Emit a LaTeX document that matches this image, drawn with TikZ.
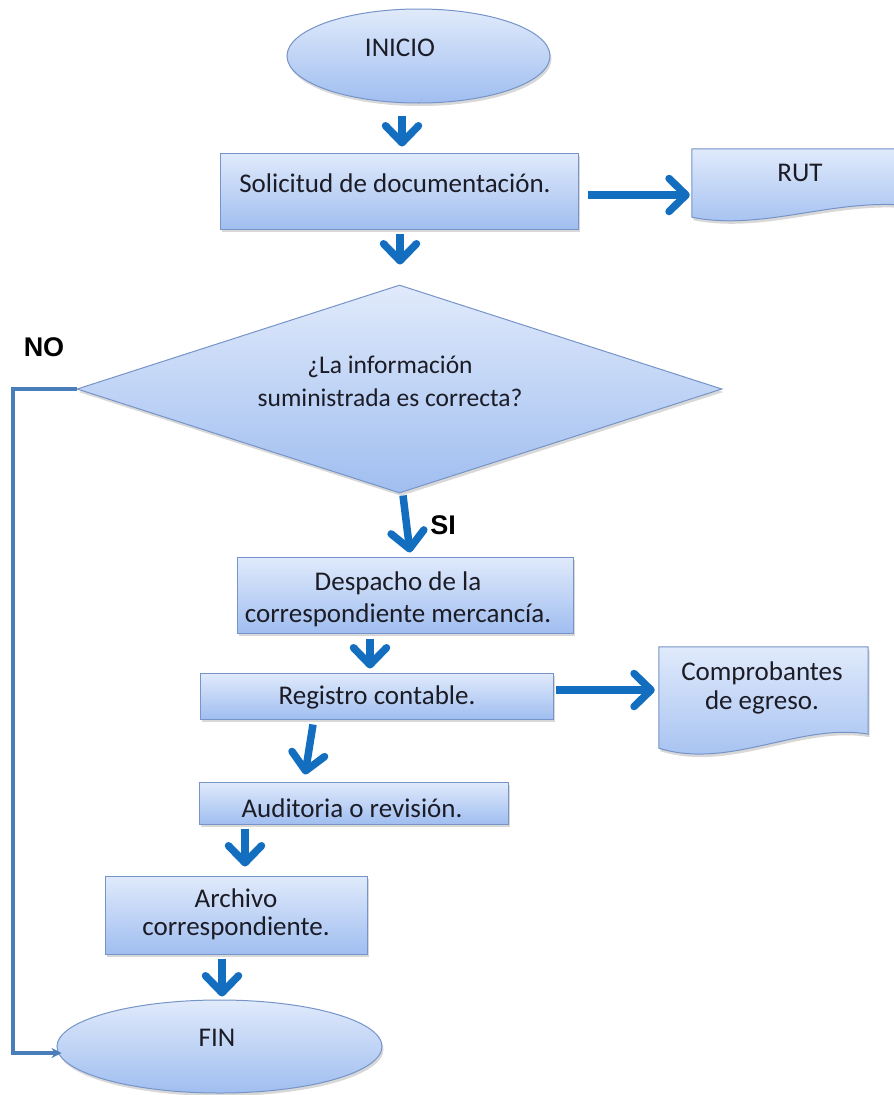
\documentclass[tikz,border=0pt]{standalone}
\usepackage{fontspec}
\setmainfont{Carlito}
\newfontfamily\labfont{Liberation Sans}
\usetikzlibrary{arrows.meta,shapes.geometric,shadows,calc}

\definecolor{arrowblue}{RGB}{20,110,192}
\definecolor{noblue}{RGB}{74,126,187}
\definecolor{boxtop}{RGB}{224,234,251}
\definecolor{boxbot}{RGB}{160,190,240}
\definecolor{boxline}{RGB}{118,148,200}
\definecolor{txt}{RGB}{28,28,38}

\begin{document}
\begin{tikzpicture}[x=1pt,y=-1pt,
  shapebox/.style={draw=boxline, line width=1pt, top color=boxtop, bottom color=boxbot,
    drop shadow={opacity=0.25, shadow xshift=1.5pt, shadow yshift=-3pt, fill=black!60}},
  boxnode/.style={rectangle, inner sep=0pt, shapebox},
  ovalnode/.style={ellipse, inner sep=0pt, shapebox},
  txtnode/.style={inner sep=0pt, text=txt, align=center, font=\fontsize{27}{30}\selectfont},
  lab/.style={inner sep=0pt, text=black, font=\labfont\bfseries\fontsize{27}{30}\selectfont},
  bigarrow/.style={line width=7.5pt, draw=arrowblue, -{Straight Barb[length=17pt, width=33pt, round]}},
  noline/.style={line width=4pt, draw=noblue, -{Stealth[length=10pt, width=10pt]}}
]
\useasboundingbox (0,0) rectangle (894,1095);
\fill[white] (0,0) rectangle (894,1095);
\clip (0,0) rectangle (894,1095);

% shapes
\node[ovalnode, minimum width=263pt, minimum height=94pt] (ini) at (418.5,56) {};
\node[boxnode, minimum width=358pt, minimum height=76pt] (sol) at (399,191) {};
\node[inner sep=0pt, minimum width=213pt, minimum height=70pt] (rut) at (798.5,184) {};
\path[shapebox] (rut.north west) -- (rut.north east) -- ($(rut.south east)+(0,-14)$)
  .. controls ($(rut.south east)+(-75,-20)$) and ($(rut.south west)+(70,12)$) .. ($(rut.south west)+(0,-2)$) -- cycle;
\node[diamond, shapebox, inner sep=0pt, minimum width=645pt, minimum height=208pt] (dia) at (399.5,389) {};
\node[boxnode, minimum width=336pt, minimum height=76pt] (desp) at (405,595) {};
\node[boxnode, minimum width=353pt, minimum height=46pt] (reg) at (376.5,696) {};
\node[inner sep=0pt, minimum width=209pt, minimum height=101pt] (comp) at (763.5,697.5) {};
\path[shapebox] (comp.north west) -- (comp.north east) -- ($(comp.south east)+(0,-14)$)
  .. controls ($(comp.south east)+(-68,-26)$) and ($(comp.south west)+(71,22)$) .. (comp.south west) -- cycle;
\node[boxnode, minimum width=309pt, minimum height=42pt] (aud) at (353.5,803) {};
\node[boxnode, minimum width=262pt, minimum height=78pt] (arc) at (236,915) {};
\node[ovalnode, minimum width=325pt, minimum height=93pt] (fin) at (219.5,1046.5) {};

% texts
\node[txtnode] (tini) at (400,48) {INICIO};
\node[txtnode] (tsol) at (395,183) {Solicitud de documentación.};
\node[txtnode] (trut) at (800,173) {RUT};
\node[txtnode, font=\fontsize{25.5}{33}\selectfont] (tdia) at (390,381) {¿La información\\suministrada es correcta?};
\node[txtnode, font=\fontsize{27}{32}\selectfont] (tdesp) at (398,599) {Despacho de la\\correspondiente mercancía.};
\node[txtnode] (treg) at (377,697) {Registro contable.};
\node[txtnode, font=\fontsize{27}{29}\selectfont] (tcomp) at (762,688) {Comprobantes\\de egreso.};
\node[txtnode] (taud) at (352,808) {Auditoria o revisión.};
\node[txtnode, font=\fontsize{27}{28}\selectfont] (tarc) at (236,914) {Archivo\\correspondiente.};
\node[txtnode] (tfin) at (217,1038) {FIN};

\node[lab] (no) at (44,347) {NO};
\node[lab] (si) at (443,525) {SI};

% connectors
\draw[bigarrow] ($(ini.south)+(-16.5,12)$) -- ($(sol.north)+(3,-6)$);
\draw[bigarrow] ($(sol.south)+(1,4)$) -- ($(dia.north)+(0.5,-20)$);
\draw[bigarrow] ($(sol.east)+(9,4)$) -- ($(rut.west)+(-2,11)$);
\draw[bigarrow] ($(dia.south)+(3.5,2)$) -- ($(desp.north)+(5,-4)$);
\draw[bigarrow] ($(desp.south)+(-35,5)$) -- ($(reg.north)+(-6.5,-4)$);
\draw[bigarrow] ($(reg.east)+(2,-6)$) -- ($(comp.west)+(-4,-7.5)$);
\draw[bigarrow] ($(reg.south)+(-63.5,5)$) -- ($(aud.north)+(-48.5,-7)$);
\draw[bigarrow] ($(aud.south)+(-108.5,4)$) -- ($(arc.north)+(9,-9)$);
\draw[bigarrow] ($(arc.south)+(-14,4)$) -- ($(fin.north)+(2.5,-3)$);
\draw[noline] (dia.west) -- ($(dia.west)+(-64,0)$) |- ($(fin.west)+(5,6.5)$);
\end{tikzpicture}
\end{document}
